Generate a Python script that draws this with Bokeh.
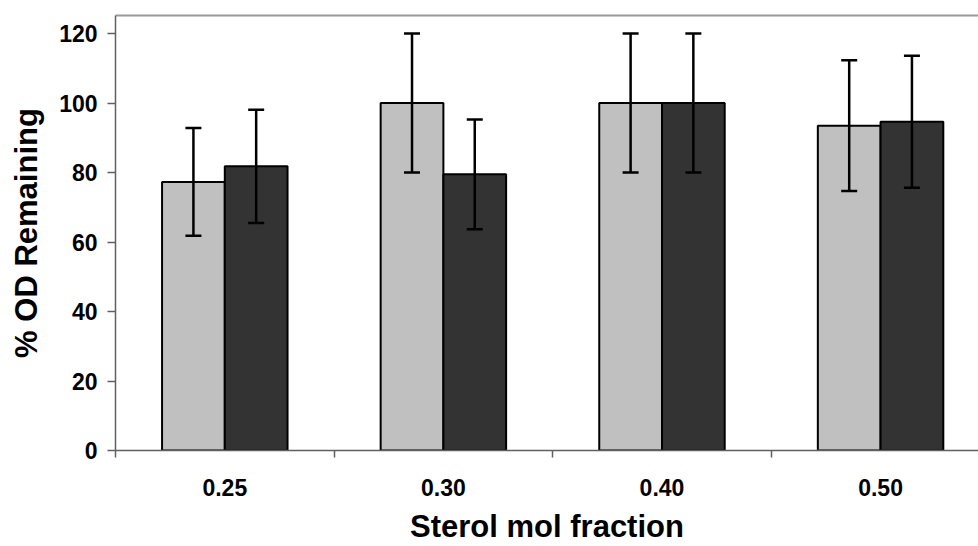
from bokeh.plotting import figure
from bokeh.models import (ColumnDataSource, FixedTicker, Range1d, Whisker, TeeHead,
                          LinearAxis)
from bokeh.embed import file_html
from bokeh.resources import INLINE

# Sterol mol fractions (x categories)
fractions = ["0.25", "0.30", "0.40", "0.50"]

# % OD remaining, two series with their error margins
light_vals = [77.3, 100.0, 100.0, 93.5]
light_err = [15.5, 20.0, 20.0, 18.8]
dark_vals = [81.8, 79.5, 100.0, 94.6]
dark_err = [16.3, 15.8, 20.0, 19.0]

y_ticks = [0, 20, 40, 60, 80, 100, 120]

BAR_W = 0.287
centers = [i + 0.5 for i in range(len(fractions))]

light_x = [c - BAR_W / 2 for c in centers]
dark_x = [c + BAR_W / 2 for c in centers]

src_light = ColumnDataSource(dict(
    x=light_x, top=light_vals,
    upper=[v + e for v, e in zip(light_vals, light_err)],
    lower=[v - e for v, e in zip(light_vals, light_err)]))
src_dark = ColumnDataSource(dict(
    x=dark_x, top=dark_vals,
    upper=[v + e for v, e in zip(dark_vals, dark_err)],
    lower=[v - e for v, e in zip(dark_vals, dark_err)]))

FONT = "Liberation Sans"

p = figure(width=978, height=546, output_backend="svg", toolbar_location=None,
           x_range=Range1d(0, 3.948), y_range=Range1d(0, 125.2),
           min_border_left=115, min_border_top=15, min_border_bottom=95,
           min_border_right=0)
p.outline_line_color = None
p.xgrid.visible = False
p.ygrid.visible = False
p.background_fill_color = "white"
p.border_fill_color = "white"

p.vbar(x="x", top="top", width=BAR_W, bottom=0, source=src_light,
       fill_color="#C0C0C0", line_color="black", line_width=2)
p.vbar(x="x", top="top", width=BAR_W, bottom=0, source=src_dark,
       fill_color="#333333", line_color="black", line_width=2)

for src in (src_light, src_dark):
    w = Whisker(base="x", upper="upper", lower="lower", source=src,
                level="overlay",
                line_color="black", line_width=2.5,
                upper_head=TeeHead(size=16, line_color="black", line_width=2.5),
                lower_head=TeeHead(size=16, line_color="black", line_width=2.5))
    p.add_layout(w)

# x axis: labels at category centres, tick marks at category boundaries
xa = p.xaxis[0]
xa.ticker = FixedTicker(ticks=centers,
                        minor_ticks=list(range(len(fractions) + 1)))
xa.major_label_overrides = {c: f for c, f in zip(centers, fractions)}
xa.major_tick_line_color = None
xa.major_tick_out = 0
xa.major_tick_in = 0
xa.minor_tick_line_color = "#606060"
xa.minor_tick_line_width = 1.5
xa.minor_tick_out = 7
xa.minor_tick_in = 0
xa.axis_line_color = "#606060"
xa.axis_line_width = 1.5
xa.major_label_text_font = FONT
xa.major_label_text_font_style = "bold"
xa.major_label_text_font_size = "23px"
xa.major_label_text_color = "black"
xa.major_label_standoff = 21
xa.axis_label = "Sterol mol fraction"
xa.axis_label_text_font = FONT
xa.axis_label_text_font_style = "bold"
xa.axis_label_text_font_size = "31px"
xa.axis_label_text_color = "black"
xa.axis_label_standoff = 10

ya = p.yaxis[0]
ya.ticker = FixedTicker(ticks=y_ticks, minor_ticks=[])
ya.major_tick_line_color = "#606060"
ya.major_tick_line_width = 1.5
ya.major_tick_out = 8
ya.major_tick_in = 0
ya.axis_line_color = "#606060"
ya.axis_line_width = 1.5
ya.major_label_text_font = FONT
ya.major_label_text_font_style = "bold"
ya.major_label_text_font_size = "23px"
ya.major_label_text_color = "black"
ya.major_label_standoff = 10
ya.axis_label = "% OD Remaining"
ya.axis_label_text_font = FONT
ya.axis_label_text_font_style = "bold"
ya.axis_label_text_font_size = "31px"
ya.axis_label_text_color = "black"
ya.axis_label_standoff = 12

# top border of the plot area
top = LinearAxis(ticker=FixedTicker(ticks=[]), axis_line_color="#999999",
                 axis_line_width=2, major_tick_line_color=None,
                 minor_tick_line_color=None, major_label_text_font_size="0px")
p.add_layout(top, "above")

open("out.html", "w").write(file_html(p, INLINE))
